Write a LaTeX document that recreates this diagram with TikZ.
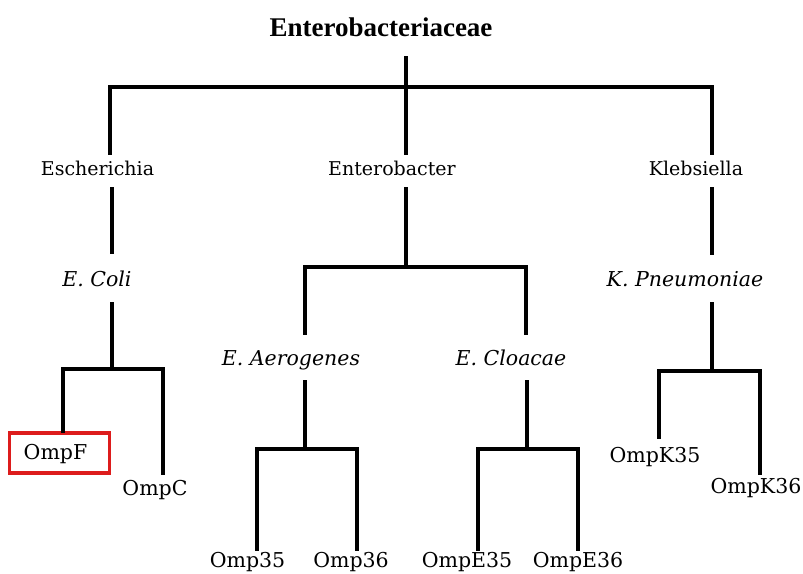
\documentclass[tikz,border=0pt]{standalone}
\usepackage{fontspec}
\setmainfont{DejaVu Serif}
\newfontfamily\titlefont{Liberation Serif}
\definecolor{boxred}{HTML}{DD1C1C}
\begin{document}
\begin{tikzpicture}[x=1pt,y=-1pt,
  br/.style={line width=4.2pt,line cap=rect},
  lbl/.style={anchor=base,inner sep=0pt,font=\fontsize{19}{22}\selectfont},
  sub/.style={anchor=base,inner sep=0pt,font=\fontsize{20.5}{24}\selectfont},
  spc/.style={sub,font=\fontsize{20.5}{24}\selectfont\itshape},
  hl/.style={draw=boxred,line width=3.3pt}]
\useasboundingbox (0,0) rectangle (803,573);
% labels
\node[anchor=base,inner sep=0pt,font=\titlefont\fontsize{27}{30}\selectfont\bfseries] (root) at (381,36) {Enterobacteriaceae};
\node[lbl] (esch) at (97.5,175) {Escherichia};
\node[lbl] (entb) at (392,175) {Enterobacter};
\node[lbl] (kleb) at (696,175) {Klebsiella};
\node[spc] (ecoli) at (97,286) {E. Coli};
\node[spc] (aero) at (291,365) {E. Aerogenes};
\node[spc] (cloa) at (511,365) {E. Cloacae};
\node[spc] (kpn) at (685,286) {K. Pneumoniae};
\node[sub] (ompf) at (55.5,459) {OmpF};
\node[sub] (ompc) at (155,495) {OmpC};
\node[sub] (o35) at (247.5,567) {Omp35};
\node[sub] (o36) at (351,567) {Omp36};
\node[sub] (e35) at (467,567) {OmpE35};
\node[sub] (e36) at (578,567) {OmpE36};
\node[sub] (k35) at (655,462) {OmpK35};
\node[sub] (k36) at (756,493) {OmpK36};
% highlight box
\node[hl,minimum width=100pt,minimum height=40pt,inner sep=0pt] (box) at (59.5,453) {};
% junction coordinates
\coordinate (r0) at (406,58);
\coordinate (r1) at (406,87);
\coordinate (rl) at (110,87);
\coordinate (rr) at (712,87);
\coordinate (eschT) at (110,153);
\coordinate (entbT) at (406,153);
\coordinate (klebT) at (712,153);
% Escherichia
\coordinate (eschB) at (112,189);
\coordinate (ecoliT) at (112,252);
\coordinate (ecoliB) at (112,304);
\coordinate (ecoliJ) at (112,369);
\coordinate (ompfT) at (63,431);
\coordinate (ompcT) at (163,473);
% Enterobacter
\coordinate (entbB) at (406,189);
\coordinate (entbJ) at (406,267);
\coordinate (aeroT) at (305,333);
\coordinate (cloaT) at (526,333);
\coordinate (aeroB) at (305,382);
\coordinate (aeroJ) at (305,449);
\coordinate (o35T) at (257,549);
\coordinate (o36T) at (357,549);
\coordinate (cloaB) at (527,382);
\coordinate (cloaJ) at (527,449);
\coordinate (e35T) at (478,549);
\coordinate (e36T) at (578,549);
% Klebsiella
\coordinate (klebB) at (712,189);
\coordinate (kpnT) at (712,253);
\coordinate (kpnB) at (712,304);
\coordinate (kpnJ) at (712,371);
\coordinate (k35T) at (659,437);
\coordinate (k36T) at (760,473);
% branches
\draw[br] (r0) -- (r1);
\draw[br] (eschT) -- (rl) -- (rr) -- (klebT);
\draw[br] (r1) -- (entbT);
\draw[br] (eschB) -- (ecoliT);
\draw[br] (ecoliB) -- (ecoliJ);
\draw[br] (ompfT) |- (ecoliJ) -| (ompcT);
\draw[br] (entbB) -- (entbJ);
\draw[br] (aeroT) |- (entbJ) -| (cloaT);
\draw[br] (aeroB) -- (aeroJ);
\draw[br] (o35T) |- (aeroJ) -| (o36T);
\draw[br] (cloaB) -- (cloaJ);
\draw[br] (e35T) |- (cloaJ) -| (e36T);
\draw[br] (klebB) -- (kpnT);
\draw[br] (kpnB) -- (kpnJ);
\draw[br] (k35T) |- (kpnJ) -| (k36T);
\end{tikzpicture}
\end{document}
